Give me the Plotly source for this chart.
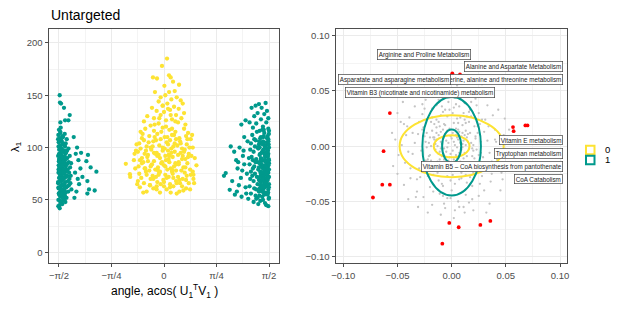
import math
import plotly.graph_objects as go

# ---------------- data: left panel ----------------
teal_left_x = [-1.560,-1.556,-1.540,-1.496,-1.410,-1.480,-1.430,-1.550,-1.545,
 -1.137,-1.161,-1.097,-1.011,-1.146,-1.122,-1.037,-1.146,-1.25,-1.28,-1.22,-1.30,-1.27,-1.32,-1.24,-1.33,-1.31,-1.35,-1.34,-1.29,
 -1.580,-1.575,-1.568,-1.583,-1.572,-1.565,-1.578,-1.570,-1.582,-1.567,-1.574,-1.579,-1.563,-1.571,-1.560,
 -1.553,-1.548,-1.556,-1.545,-1.551,-1.540,-1.558,-1.546,-1.538,-1.552,-1.542,-1.549,-1.536,-1.530,
 -1.525,-1.534,-1.521,-1.528,-1.517,-1.532,-1.520,-1.527,-1.514,-1.523,-1.510,-1.505,-1.515,-1.500,
 -1.508,-1.496,-1.503,-1.492,-1.499,-1.488,-1.494,-1.485,-1.480,-1.476,-1.483,-1.470,-1.478,-1.466,
 -1.474,-1.462,-1.470,-1.458,-1.455,-1.450,-1.446,-1.453,-1.440,-1.448,-1.436,-1.444,-1.432,-1.428,
 -1.425,-1.420,-1.415,-1.422,-1.410,-1.405,-1.400,-1.395,-1.390,-1.385,-1.575,-1.566,-1.557,-1.544,
 -1.535,-1.518,-1.506,-1.490,-1.465,-1.456,-1.578,-1.562,-1.531,-1.512,-1.487,-1.470,-1.580,-1.560,-1.520,-1.475,
 -1.584,-1.577,-1.569,-1.561,-1.554,-1.547,-1.539,-1.531,-1.524,-1.516,-1.509,-1.501,-1.493,-1.486,-1.478,-1.471,-1.463,
 -1.584,-1.576,-1.568,-1.559,-1.551,-1.543,-1.535,-1.527,-1.519,-1.511,-1.503,-1.495,-1.487,-1.479,
 -1.577,-1.563,-1.548,-1.533,-1.518,-1.503,-1.488,-1.570,-1.541]
teal_left_y = [150,143,142,138,131,126,126,124,119,
 93,87,81,77,68,60,59,56,80,88,72,100,65,94,95,76,58,110,52,70,
 112,105,98,92,87,81,76,71,66,61,56,50,45,117,109,
 102,95,89,84,78,73,68,63,58,53,48,114,107,99,
 92,86,80,74,69,64,59,54,49,111,104,96,90,85,
 79,75,70,65,60,55,51,113,101,94,88,82,77,72,
 67,62,57,52,108,97,90,84,79,73,68,63,58,99,
 86,76,70,64,92,81,66,73,85,60,83,93,74,100,
 81,87,64,71,95,77,62,57,68,57,91,104,44,42,46,48,
 108,101,94,88,82,76,70,64,58,52,110,103,97,91,85,79,73,
 67,61,55,49,115,106,99,90,83,77,71,65,59,53,
 79,86,91,106,96,76,62,89,60]

yellow_x = [0.045,-0.03,-0.165,-0.105,0.075,0.10,0.006,0.135,0.225,-0.135,0.076,0.16,0.02,-0.05,0.19,0.25,-0.08,0.11,0.28,-0.02,
 0.05,-0.18,0.15,0.22,-0.11,0.30,0.00,0.09,-0.25,-0.05,0.18,0.26,-0.15,0.12,-0.30,0.03,0.32,-0.20,-0.08,0.21,
 -0.571,-0.51,-0.505,-0.44,-0.45,-0.42,-0.43,-0.40,-0.41,0.46,0.485,0.43,0.44,0.45,0.40,0.42,
 -0.28,-0.15,-0.02,0.08,0.17,0.30,0.36,-0.35,
 -0.33,-0.22,-0.10,0.01,0.12,0.23,0.33,-0.05,0.18,
 -0.37,-0.26,-0.16,-0.07,0.04,0.14,0.24,0.34,0.38,-0.20,0.09,-0.30,
 -0.39,-0.29,-0.19,-0.11,-0.02,0.07,0.16,0.27,0.37,-0.24,0.21,0.11,-0.35,
 -0.36,-0.25,-0.15,-0.06,0.03,0.13,0.22,0.32,0.41,-0.31,0.08,-0.10,0.28,
 -0.38,-0.28,-0.18,-0.09,0.00,0.10,0.19,0.29,0.39,-0.33,0.05,-0.13,0.35,0.15,
 -0.37,-0.27,-0.17,-0.07,0.02,0.12,0.21,0.31,0.40,-0.22,0.07,-0.12,0.26,0.43,
 -0.39,-0.30,-0.20,-0.10,-0.01,0.09,0.18,0.28,0.37,-0.34,0.14,-0.05,0.33,0.44,
 -0.36,-0.26,-0.16,-0.06,0.04,0.14,0.23,0.33,-0.31,0.10,-0.11,0.27,0.39,-0.21,0.00,0.19,
 -0.02,0.06,0.02,-0.04,0.05,0.16,-0.12,0.25,0.18,-0.15,0.07,-0.08,0.24,0.12,-0.20,0.31,
 -0.32,-0.23,-0.14,-0.04,0.06,0.15,0.25,0.35,
 -0.27,-0.17,-0.08,0.01,0.11,0.20,0.30,
 -0.33,-0.24,-0.13,-0.03,0.08,0.17,0.27,0.36,
 -0.29,-0.19,-0.09,0.02,0.12,0.22,0.32,
 -0.26,-0.16,-0.06,0.04,0.13,0.23,0.34,
 -0.21,-0.11,0.00,0.09,0.19,0.29,
 -0.14,0.03,0.17,-0.07,0.10,0.06,-0.02]
yellow_y = [185,178,167,166,169,167,159,163,160,153,153,154,150,148,148,145,144,146,142,140,
 142,138,139,137,135,133,134,136,130,131,131,128,128,127,125,126,122,121,123,124,
 84.5,74.6,72,94,88,97,80,65,103,90,83,100,74,66,108,112,
 118,116,119,117,115,118,114,115,
 109,111,113,110,112,109,111,108,108,
 104,101,106,102,105,101,106,103,100,100,107,107,
 96,94,98,95,97,93,96,99,94,93,93,99,99,
 88,91,87,90,88,91,86,89,92,86,86,92,92,
 82,80,84,81,83,80,84,81,79,85,79,79,85,82,
 75,77,73,76,74,77,72,76,74,78,72,72,78,77,
 68,66,70,67,69,65,68,70,66,71,71,65,69,70,
 62,58,61,57,60,63,58,61,57,57,63,63,60,64,63,56,
 100,97,92,85,110,104,107,95,78,95,89,74,66,118,82,98,
 113,105,110,115,103,112,104,108,
 97,101,93,99,95,102,96,
 90,87,94,86,92,85,89,91,
 80,83,78,82,79,84,81,
 74,70,77,71,75,69,73,
 64,60,67,62,66,59,
 122,120,125,128,131,137,140]

teal_right_x = [1.52,1.37,1.42,1.31,1.46,1.157,1.22,1.54,1.50,1.40,1.56,1.35,1.45,1.28,1.53,1.38,1.48,1.33,1.56,1.43,
 0.998,0.897,0.923,0.983,1.05,1.08,1.10,1.02,1.06,1.12,1.15,1.18,1.13,1.09,1.20,1.16,1.20,1.22,1.25,1.24,1.26,1.19,1.11,1.27,1.23,1.17,
 1.32,1.39,1.45,1.50,1.55,1.57,1.47,1.35,
 1.30,1.37,1.42,1.48,1.52,1.56,1.44,1.54,1.40,
 1.29,1.34,1.41,1.46,1.51,1.555,1.57,1.49,1.36,
 1.31,1.38,1.43,1.47,1.53,1.565,1.50,1.56,1.33,1.45,
 1.28,1.35,1.40,1.46,1.51,1.55,1.57,1.48,1.42,1.53,1.37,
 1.30,1.36,1.41,1.47,1.52,1.56,1.44,1.54,1.33,1.49,1.57,
 1.29,1.34,1.39,1.45,1.50,1.55,1.57,1.48,1.42,1.53,1.32,
 1.28,1.35,1.40,1.46,1.51,1.56,1.44,1.54,1.38,1.49,1.57,
 1.30,1.37,1.42,1.47,1.52,1.55,1.57,1.45,1.40,1.50,
 1.34,1.41,1.48,1.53,1.56,1.44,1.38,1.51,
 1.565,1.555,1.562,1.548,1.568,1.545,1.558,1.52,1.535,1.50,1.525,1.515,1.46,1.49,1.43,
 1.568,1.561,1.553,1.546,1.538,1.531,1.523,1.516,1.508,1.501,1.493,1.486,1.478,1.471,1.463,1.456,1.448,1.441,1.433,1.426,
 1.566,1.558,1.551,1.543,1.536,1.528,1.521,1.513,1.506,1.498,1.491,1.483,1.476,1.468,1.461,1.453,1.446,1.438,1.431,1.423,
 1.569,1.556,1.541,1.526,1.511,1.496,1.481,1.466,1.451,1.436]
teal_right_y = [142.6,140,141.6,138,138,122,126,135,132,133,128,130,127,124,124,123,120,119,118,116,
 101,73,75.6,59.6,96,88,80,68,55,64,71,92,100,58,110,53,84,62,106,75,51,97,86,90,56,78,
 112,115,110,114,111,116,117,108,
 104,107,103,106,102,108,109,105,100,
 98,96,99,95,101,97,100,98,101,
 91,89,93,88,92,89,94,94,88,90,
 84,82,86,83,87,81,85,80,81,84,86,
 77,75,79,74,78,76,77,74,80,76,79,
 70,68,72,67,71,69,72,73,69,67,73,
 63,61,65,62,66,60,64,63,60,61,65,
 56,54,58,53,57,55,52,59,52,55,
 48,46,50,45,44,49,51,47,
 103,92,83,73,62,97,79,88,70,83,95,63,104,68,85,
 113,106,99,92,86,80,74,68,62,56,117,110,103,96,89,82,75,68,61,54,
 51,57,63,69,75,81,87,93,99,105,111,58,64,70,76,82,88,94,100,106,
 88,71,109,66,91,79,97,58,85,72]

x_tick_vals = [-math.pi / 2, -math.pi / 4, 0, math.pi / 4, math.pi / 2]
x_tick_text = ["\u2212\u03c0/2", "\u2212\u03c0/4", "0", "\u03c0/4", "\u03c0/2"]
x_minor_vals = [-3 * math.pi / 8, -math.pi / 8, math.pi / 8, 3 * math.pi / 8]
y_tick_vals = [0, 50, 100, 150, 200]
y_minor_vals = [25, 75, 125, 175]

# ---------------- data: right panel ----------------
grey_x = [0.002,-0.006,0.009,-0.012,0.014,-0.003,0.007,-0.009,0.011,-0.014,
 0.004,-0.001,0.013,-0.007,0.006,-0.011,0.001,-0.004,0.010,-0.013,
 0.008,-0.002,0.012,-0.008,0.003,-0.005,0.015,-0.010,0.005,-0.015,
 0.000,0.009,-0.006,0.011,-0.012,0.002,-0.003,0.014,-0.009,0.006,
 0.001,-0.014,0.013,-0.001,0.007,-0.010,0.004,-0.007,0.010,-0.004,
 0.003,-0.016,0.016,-0.002,0.008,-0.011,0.005,-0.008,0.012,-0.013,
 0.021,-0.019,0.024,-0.022,0.018,-0.025,0.027,-0.017,0.020,-0.028,
 0.005,-0.004,0.011,-0.010,0.009,-0.012,0.026,-0.026,0.029,-0.024,
 0.017,-0.018,0.019,-0.020,0.022,-0.021,0.023,-0.023,0.016,-0.016,
 0.015,-0.015,0.001,0.003,-0.006,0.007,-0.008,0.014,0.030,-0.031,
 0.032,-0.030,0.025,-0.027,0.028,-0.029,0.013,-0.014,0.018,-0.019,
 0.002,-0.002,0.006,-0.007,0.010,-0.011,0.009,-0.009,0.020,-0.019,
 0.024,-0.023,0.021,-0.022,0.004,-0.003,0.012,-0.014,0.000,0.010,
 -0.011,0.033,-0.034,0.035,-0.036,0.017,-0.018,0.019,-0.020,0.028,
 0.040,-0.041,0.042,-0.043,0.038,-0.039,0.037,-0.038,0.045,-0.046,
 0.048,-0.049,0.050,-0.052,0.044,-0.047,0.022,-0.024,0.025,-0.026,
 0.008,-0.009,0.015,-0.017,0.006,-0.007,0.016,-0.018,0.003,0.012,
 -0.010,0.030,-0.032,0.033,-0.034,0.053,-0.054,0.047,-0.050,0.000,
 0.026,-0.029,0.035,-0.040,0.043,-0.044,0.051,-0.055,0.020,-0.022,
 0.005,0.039,-0.045,0.045,-0.035,0.028,-0.012,0.002,-0.031,0.032,
 -0.018,-0.013,-0.008,-0.003,0.002,0.007,0.012,0.017,0.022,0.027,
 -0.024,-0.019,-0.014,-0.009,-0.004,0.001,0.006,0.011,0.016,0.021,
 -0.021,-0.016,-0.011,-0.006,-0.001,0.004,0.009,0.014,0.019,0.024,
 -0.027,-0.022,-0.017,-0.012,-0.007,-0.002,0.003,0.008,0.013,0.018,
 -0.015,-0.010,-0.005,0.000,0.005,0.010,0.015,0.020,-0.020,0.025,
 -0.032,0.031,-0.036,0.037,-0.040,0.041,-0.044,0.046,-0.008,0.008,
 -0.004,0.004,-0.012,0.013,-0.017,0.018,-0.025,0.026,-0.030,0.029,
 -0.050,-0.042,0.049,0.036,-0.033,0.040,-0.027,0.023,-0.038,0.034,
 -0.006,0.011,-0.016,0.019,-0.023,0.014,-0.001,0.007,-0.009,0.003]
grey_y = [0.004,0.011,-0.003,-0.007,0.008,-0.013,0.013,0.002,-0.011,0.006,
 -0.008,0.009,0.001,-0.002,0.006,-0.012,-0.004,0.014,0.012,0.000,
 -0.014,-0.010,-0.006,0.007,0.001,-0.005,0.004,0.013,-0.001,-0.003,
 0.007,0.009,-0.015,0.005,0.010,-0.012,0.003,-0.009,-0.009,0.015,
 0.012,0.012,0.014,-0.007,-0.006,0.004,0.010,-0.012,-0.001,-0.001,
 -0.016,0.008,-0.002,0.016,0.003,-0.005,0.008,0.015,0.010,-0.014,
 0.018,0.022,-0.015,-0.019,0.027,0.009,0.004,-0.026,-0.024,-0.004,
 0.025,-0.027,0.030,0.028,-0.029,-0.031,0.020,0.017,-0.010,-0.013,
 0.012,0.014,-0.009,-0.008,0.007,0.003,-0.003,-0.001,0.022,0.020,
 -0.020,-0.021,0.030,-0.034,0.033,0.036,-0.036,-0.033,0.013,0.011,
 -0.018,-0.020,0.030,0.029,-0.027,-0.028,0.021,0.024,-0.016,-0.017,
 0.021,-0.022,-0.019,0.020,0.019,0.018,-0.021,-0.020,0.001,0.000,
 0.012,0.012,-0.011,-0.012,0.038,0.040,0.039,0.037,-0.040,-0.041,
 -0.043,0.005,0.003,-0.006,-0.007,0.033,0.034,-0.036,-0.037,0.024,
 0.015,0.018,-0.012,-0.015,0.028,0.026,-0.025,-0.029,0.002,0.001,
 0.010,-0.008,-0.004,0.006,-0.020,0.022,0.043,0.042,-0.045,-0.046,
 0.047,0.049,0.046,0.045,-0.050,-0.052,-0.051,-0.053,-0.058,-0.060,
 -0.062,-0.040,-0.041,0.037,0.036,0.015,-0.018,-0.030,0.030,0.052,
 0.050,0.048,-0.052,-0.048,0.033,-0.035,-0.019,0.012,-0.058,-0.060,
 0.055,0.045,0.040,-0.040,0.052,0.056,0.056,-0.065,-0.055,-0.060,
 0.026,-0.024,0.031,-0.018,0.035,-0.030,0.024,-0.028,0.009,-0.006,
 0.004,-0.013,0.017,-0.034,0.027,-0.026,0.021,-0.017,0.031,-0.019,
 -0.009,0.006,-0.022,0.019,-0.031,0.016,-0.024,0.027,-0.002,0.018,
 0.015,-0.027,0.008,0.022,-0.019,0.033,-0.022,0.026,-0.026,0.003,
 0.002,-0.002,0.005,-0.019,-0.011,0.002,0.011,-0.004,0.008,-0.008,
 -0.030,0.024,0.012,-0.014,-0.005,0.004,0.020,-0.024,-0.045,0.043,
 -0.047,0.047,0.042,-0.044,-0.041,0.040,0.034,-0.034,0.022,-0.021,
 -0.025,0.010,0.025,-0.032,-0.046,0.006,0.038,0.037,-0.020,0.018,
 -0.056,-0.055,0.050,-0.048,0.045,0.052,-0.047,-0.055,0.036,0.044]

red_x = [0.0006,0.0077,-0.057,0.0566,0.0572,0.068,0.070,-0.0628,-0.064,-0.057,-0.0726,-0.0022,0.0065,0.0265,0.0357,-0.0086]
red_y = [0.066,0.065,0.030,0.0173,0.0136,0.0188,0.0188,-0.0045,-0.0348,-0.0348,-0.0464,-0.0694,-0.0733,-0.0712,-0.0676,-0.0882]

label_text = ["Arginine and Proline Metabolism", "Alanine and Aspartate Metabolism",
              "Glycine, serine, alanine and threonine metabolism", "Asparatate and asparagine metabolism",
              "Vitamin B3 (nicotinate and nicotinamide) metabolism", "Vitamin E metabolism",
              "Tryptophan metabolism", "Vitamin B5 \u2013 CoA biosynthesis from pantothenate", "CoA Catabolism"]
label_x_right = [0.0175, 0.1025, 0.1025, -0.0006, 0.0403, 0.1025, 0.1025, 0.1025, 0.1025]
label_y = [0.0833, 0.0721, 0.0604, 0.0604, 0.0483, 0.0052, -0.0069, -0.0181, -0.0301]

ellipse_group = ["0", "0", "1", "1"]
ellipse_cx = [0.0, 0.0, 0.0, 0.0]
ellipse_cy = [0.0, 0.0, 0.0, 0.0]
ellipse_rx = [0.048, 0.0165, 0.027, 0.0088]
ellipse_ry = [0.028, 0.010, 0.0445, 0.0152]

legend_labels = ["0", "1"]
group_colors = {"0": "#FDE333", "1": "#00998C"}

r_tick_vals = [-0.10, -0.05, 0.0, 0.05, 0.10]
r_minor_vals = [-0.075, -0.025, 0.025, 0.075]

assert len(teal_left_x) == len(teal_left_y), (len(teal_left_x), len(teal_left_y))
assert len(yellow_x) == len(yellow_y), (len(yellow_x), len(yellow_y))
assert len(teal_right_x) == len(teal_right_y), (len(teal_right_x), len(teal_right_y))
assert len(grey_x) == len(grey_y), (len(grey_x), len(grey_y))

# ---------------- figure ----------------
FONT = "Liberation Sans, Arial, sans-serif"
W, H = 623, 312
OFF = 8  # the page body adds an 8px margin around the plot div


def px(p):
    return (p - OFF) / W


def py(p):
    return 1 - (p - OFF) / H


fig = go.Figure()

MS = 4.3
fig.add_trace(go.Scatter(x=teal_left_x, y=teal_left_y, mode="markers", xaxis="x", yaxis="y",
                         marker=dict(color=group_colors["1"], size=MS), showlegend=False, hoverinfo="skip"))
fig.add_trace(go.Scatter(x=teal_right_x, y=teal_right_y, mode="markers", xaxis="x", yaxis="y",
                         marker=dict(color=group_colors["1"], size=MS), showlegend=False, hoverinfo="skip"))
fig.add_trace(go.Scatter(x=yellow_x, y=yellow_y, mode="markers", xaxis="x", yaxis="y",
                         marker=dict(color=group_colors["0"], size=MS), showlegend=False, hoverinfo="skip"))

fig.add_trace(go.Scatter(x=grey_x, y=grey_y, mode="markers", xaxis="x2", yaxis="y2",
                         marker=dict(color="#C4C4C4", size=2.3), showlegend=False, hoverinfo="skip"))
fig.add_trace(go.Scatter(x=red_x, y=red_y, mode="markers", xaxis="x2", yaxis="y2",
                         marker=dict(color="#FF0000", size=3.8), showlegend=False, hoverinfo="skip"))

shapes = []
for g, cx, cy, rx, ry in zip(ellipse_group, ellipse_cx, ellipse_cy, ellipse_rx, ellipse_ry):
    shapes.append(dict(type="circle", xref="x2", yref="y2", x0=cx - rx, x1=cx + rx, y0=cy - ry, y1=cy + ry,
                       line=dict(color=group_colors[g], width=2), layer="above"))

# legend keys (drawn manually to match ggplot spacing)
leg_x0, leg_y0, leg_step, leg_size = 586, 145.7, 10, 8.5
annotations = []
for i, lab in enumerate(legend_labels):
    top = leg_y0 + i * leg_step
    shapes.append(dict(type="rect", xref="paper", yref="paper",
                       x0=px(leg_x0), x1=px(leg_x0 + leg_size),
                       y0=py(top + leg_size), y1=py(top),
                       line=dict(color=group_colors[lab], width=2), fillcolor="white"))
    annotations.append(dict(text=lab, xref="paper", yref="paper", x=px(602.5),
                            y=py(top + leg_size / 2), xanchor="left", yanchor="middle",
                            showarrow=False, font=dict(family=FONT, size=9.5, color="#000000")))

for t, xr, yy in zip(label_text, label_x_right, label_y):
    annotations.append(dict(text=t, x=xr, y=yy, xref="x2", yref="y2", xanchor="right", yanchor="middle",
                            showarrow=False, font=dict(family=FONT, size=6.3, color="#1a1a1a"),
                            bgcolor="white", bordercolor="#444444", borderwidth=0.7, borderpad=1))

annotations.append(dict(text="Untargeted", xref="paper", yref="paper", x=px(49), y=py(15),
                        xanchor="left", yanchor="middle", showarrow=False,
                        font=dict(family=FONT, size=14, color="#000000")))

# axis titles as annotations for precise placement
annotations.append(dict(text="angle, acos( U<sub>1</sub><sup>T</sup>V<sub>1</sub> )", xref="paper", yref="paper",
                        x=px(164), y=py(291), xanchor="center", yanchor="middle", showarrow=False,
                        font=dict(family=FONT, size=12, color="#000000")))
annotations.append(dict(text="\u03bb<sub>1</sub>", xref="paper", yref="paper", x=px(16), y=py(147),
                        xanchor="center", yanchor="middle", showarrow=False, textangle=-90,
                        font=dict(family=FONT, size=11.5, color="#000000")))

GRID = "#EBEBEB"
MINOR = "#F4F4F4"
common_axis = dict(showline=True, mirror=True, linecolor="#4D4D4D", linewidth=1, ticks="outside", ticklen=3.5,
                   tickcolor="#4D4D4D", tickwidth=1, showgrid=True, gridcolor=GRID, gridwidth=1, zeroline=False,
                   automargin=False, tickfont=dict(family=FONT, size=9.5, color="#4D4D4D"))

fig.update_layout(
    width=W, height=H, margin=dict(l=0, r=0, t=0, b=0, autoexpand=False),
    paper_bgcolor="white", plot_bgcolor="white", showlegend=False,
    font=dict(family=FONT),
    xaxis=dict(domain=[px(49), px(279)], range=[-1.72, 1.72], tickmode="array",
               tickvals=x_tick_vals, ticktext=x_tick_text,
               minor=dict(tickvals=x_minor_vals, showgrid=True, gridcolor=MINOR, gridwidth=0.6),
               anchor="y", **common_axis),
    yaxis=dict(domain=[py(262.7), py(29.3)], range=[-10, 213], tickmode="array",
               tickvals=y_tick_vals,
               minor=dict(tickvals=y_minor_vals, showgrid=True, gridcolor=MINOR, gridwidth=0.6),
               anchor="x", **common_axis),
    xaxis2=dict(domain=[px(336), px(567.3)], range=[-0.1067, 0.1067], tickmode="array",
                tickvals=r_tick_vals, tickformat=".2f",
                minor=dict(tickvals=r_minor_vals, showgrid=True, gridcolor=MINOR, gridwidth=0.6),
                anchor="y2", **common_axis),
    yaxis2=dict(domain=[py(262.7), py(29.3)], range=[-0.1054, 0.1058], tickmode="array",
                tickvals=r_tick_vals, tickformat=".2f",
                minor=dict(tickvals=r_minor_vals, showgrid=True, gridcolor=MINOR, gridwidth=0.6),
                anchor="x2", **common_axis),
    shapes=shapes, annotations=annotations,
)

fig.write_html("out.html")
